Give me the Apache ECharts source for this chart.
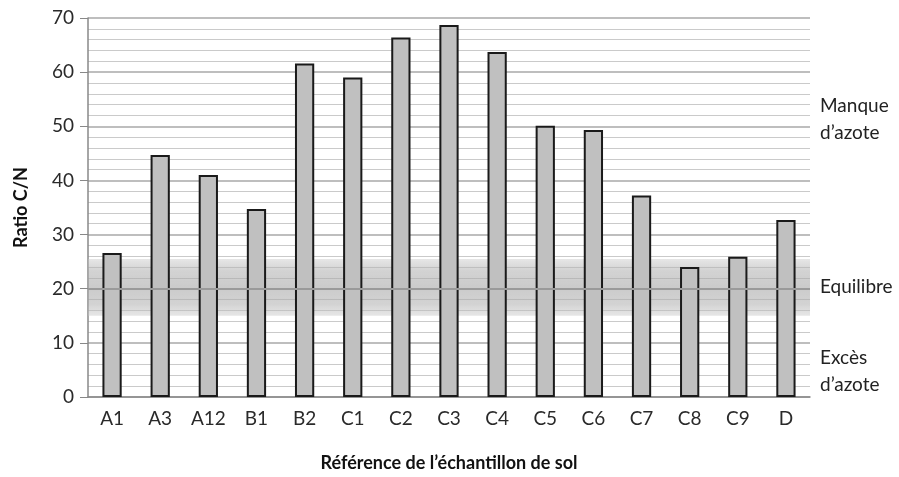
<!DOCTYPE html>
<html><head><meta charset="utf-8">
<script src="https://cdn.jsdelivr.net/npm/echarts@6/dist/echarts.min.js"></script>
<style>html,body{margin:0;padding:0;background:#fff}#c{width:899px;height:477px}</style>
</head><body><div id="c"></div>
<script>
const categories = ['A1','A3','A12','B1','B2','C1','C2','C3','C4','C5','C6','C7','C8','C9','D'];
const ratioCN = [26.6,44.7,41.0,34.7,61.6,59.0,66.4,68.7,63.7,50.1,49.3,37.2,24.0,25.9,32.7];
const yTicks = [0,10,20,30,40,50,60,70];
const balanceBand = [15,25.5];
const balanceLine = 20;
const zoneLabels = [
  {value: 51.3, text: 'Manque\nd\u2019azote'},
  {value: 20.4, text: 'Equilibre'},
  {value: 4.8, text: 'Exc\u00e8s\nd\u2019azote'}
];
const FONT = 'Lato';
const chart = echarts.init(document.getElementById('c'));
chart.setOption({
  animation: false,
  grid: {left: 88, right: 89, top: 18, bottom: 79},
  xAxis: {
    type: 'category', data: categories,
    axisLine: {lineStyle: {color: '#888', width: 1.5}},
    axisTick: {show: false},
    axisLabel: {color: '#2a2a2a', fontFamily: FONT, fontSize: 19, margin: 12},
    name: 'R\u00e9f\u00e9rence de l\u2019\u00e9chantillon de sol',
    nameLocation: 'middle', nameGap: 57,
    nameTextStyle: {color: '#111', fontFamily: FONT, fontSize: 18, fontWeight: 'bold'}
  },
  yAxis: {
    type: 'value', min: yTicks[0], max: yTicks[yTicks.length-1], interval: 10,
    axisLine: {show: true, lineStyle: {color: '#888', width: 1.5}},
    axisTick: {show: true, inside: false, length: 8, lineStyle: {color: '#888'}},
    axisLabel: {color: '#2a2a2a', fontFamily: FONT, fontSize: 19, margin: 14},
    splitLine: {lineStyle: {color: '#a8a8a8', width: 1.5}},
    minorTick: {show: false, splitNumber: 5},
    minorSplitLine: {show: true, lineStyle: {color: '#cacaca', width: 1}},
    name: 'Ratio C/N', nameLocation: 'middle', nameGap: 58,
    nameTextStyle: {color: '#111', fontFamily: FONT, fontSize: 18, fontWeight: 'bold'}
  },
  series: [
    {
      type: 'line', data: [], z: 1, silent: true,
      markArea: {
        silent: true,
        itemStyle: {
          color: new echarts.graphic.LinearGradient(0,0,0,1,[
            {offset: 0, color: 'rgba(200,200,200,0.45)'},
            {offset: 0.2, color: 'rgba(175,175,175,0.55)'},
            {offset: 0.5, color: 'rgba(168,168,168,0.6)'},
            {offset: 0.8, color: 'rgba(175,175,175,0.55)'},
            {offset: 1, color: 'rgba(200,200,200,0.45)'}
          ])
        },
        data: [[{yAxis: balanceBand[1]}, {yAxis: balanceBand[0]}]]
      },
      markLine: {
        silent: true, symbol: 'none',
        lineStyle: {color: '#9a9a9a', width: 2, type: 'solid'},
        label: {show: false},
        data: [{yAxis: balanceLine}]
      }
    },
    {
      type: 'bar', data: ratioCN, z: 3,
      barCategoryGap: '60%',
      itemStyle: {color: '#c0c0c0', borderColor: '#1a1a1a', borderWidth: 2},
      markLine: {
        silent: true, symbol: 'none',
        lineStyle: {color: 'rgba(0,0,0,0)'},
        label: {
          show: true, position: 'end', distance: 10,
          formatter: p => p.name,
          color: '#222', fontFamily: FONT, fontSize: 19, lineHeight: 27, align: 'left'
        },
        data: zoneLabels.map(z => ({yAxis: z.value, name: z.text}))
      }
    }
  ]
});
</script></body></html>
